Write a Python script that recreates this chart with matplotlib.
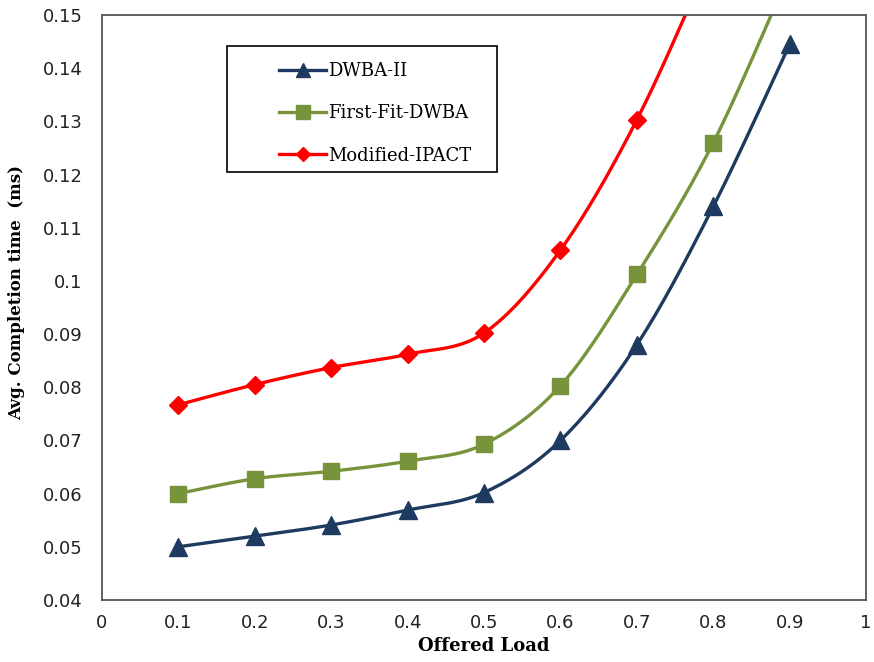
import numpy as np
import matplotlib
matplotlib.use("Agg")
import matplotlib.pyplot as plt
from matplotlib.lines import Line2D
from matplotlib.patches import Rectangle

loads = [0.1, 0.2, 0.3, 0.4, 0.5, 0.6, 0.7, 0.8, 0.9]
dwba_ii = [0.0500, 0.0520, 0.0541, 0.0569, 0.0602, 0.0700, 0.0880, 0.1140, 0.1445]
first_fit = [0.0600, 0.0628, 0.0642, 0.0661, 0.0693, 0.0803, 0.1012, 0.1260, 0.1580]
mod_ipact = [0.0767, 0.0805, 0.0837, 0.0862, 0.0902, 0.1058, 0.1303, 0.1620, 0.1950]
series_names = ["DWBA-II", "First-Fit-DWBA", "Modified-IPACT"]
xticks = [0, 0.1, 0.2, 0.3, 0.4, 0.5, 0.6, 0.7, 0.8, 0.9, 1]
yticks = [0.04, 0.05, 0.06, 0.07, 0.08, 0.09, 0.1, 0.11, 0.12, 0.13, 0.14, 0.15]
ytick_labels = ["0.04", "0.05", "0.06", "0.07", "0.08", "0.09", "0.1", "0.11", "0.12", "0.13", "0.14", "0.15"]
xtick_labels = ["0", "0.1", "0.2", "0.3", "0.4", "0.5", "0.6", "0.7", "0.8", "0.9", "1"]


def smooth(x, y, n=30):
    """Excel-like Catmull-Rom Bezier smoothing."""
    x = np.asarray(x, float); y = np.asarray(y, float)
    P = np.column_stack([x, y])
    out = []
    for i in range(len(P) - 1):
        p0 = P[i - 1] if i > 0 else P[i]
        p1 = P[i]; p2 = P[i + 1]
        p3 = P[i + 2] if i + 2 < len(P) else P[i + 1]
        c1 = p1 + (p2 - p0) / 6.0
        c2 = p2 - (p3 - p1) / 6.0
        t = np.linspace(0, 1, n)[:, None]
        seg = ((1 - t) ** 3) * p1 + 3 * ((1 - t) ** 2) * t * c1 + 3 * (1 - t) * t ** 2 * c2 + t ** 3 * p2
        if i > 0:
            seg = seg[1:]
        out.append(seg)
    out = np.vstack(out)
    return out[:, 0], out[:, 1]


tick_font = ["DejaVu Sans"]
serif_font = ["DejaVu Serif"]

fig = plt.figure(figsize=(8.74, 6.62), dpi=100)
ax = fig.add_axes([0.1167, 0.0937, 0.8743, 0.8837])

styles = [
    dict(color="#1F3A60", marker="^", ms=13),
    dict(color="#77933C", marker="s", ms=12),
    dict(color="#FF0000", marker="D", ms=9),
]
handles = []
for name, vals, st in zip(series_names, [dwba_ii, first_fit, mod_ipact], styles):
    sx, sy = smooth(loads, vals)
    ax.plot(sx, sy, color=st["color"], lw=2.4, solid_capstyle="round", zorder=2)
    ax.plot(loads, vals, linestyle="none", marker=st["marker"], ms=st["ms"],
            color=st["color"], markeredgecolor=st["color"], zorder=3)
    handles.append(Line2D([0], [0], color=st["color"], lw=2.4, marker=st["marker"],
                          ms=st["ms"] * 0.8, markeredgecolor=st["color"]))

ax.set_xlim(0, 1)
ax.set_ylim(0.04, 0.15)
ax.set_xticks(xticks)
ax.set_xticklabels(xtick_labels)
ax.set_yticks(yticks)
ax.set_yticklabels(ytick_labels)
ax.tick_params(axis="y", length=0, pad=14, labelsize=13)
ax.tick_params(axis="x", length=0, pad=10, labelsize=13)
for lab in ax.get_xticklabels() + ax.get_yticklabels():
    lab.set_fontfamily(tick_font)
    lab.set_color("#222222")
for sp in ax.spines.values():
    sp.set_color("#555555")
    sp.set_linewidth(1.3)

ax.set_xlabel("Offered Load", fontfamily=serif_font, fontweight="bold", fontsize=13, labelpad=4)
ax.set_ylabel("Avg. Completion time  (ms)", fontfamily=serif_font, fontweight="bold", fontsize=12)
ax.yaxis.set_label_coords(-0.10, 0.525)

# legend frame drawn separately, legend entries placed inside
ax.add_patch(Rectangle((0.164, 0.732), 0.353, 0.215, transform=ax.transAxes,
                       facecolor="white", edgecolor="black", lw=1.2, zorder=4))
leg = ax.legend(handles, series_names, loc="center left", bbox_to_anchor=(0.232, 0.832),
                frameon=False, prop={"family": serif_font, "size": 13},
                handlelength=2.6, handletextpad=0.1, labelspacing=1.35,
                borderpad=0, borderaxespad=0)
leg.set_zorder(5)

fig.savefig("out.png", dpi=100)
